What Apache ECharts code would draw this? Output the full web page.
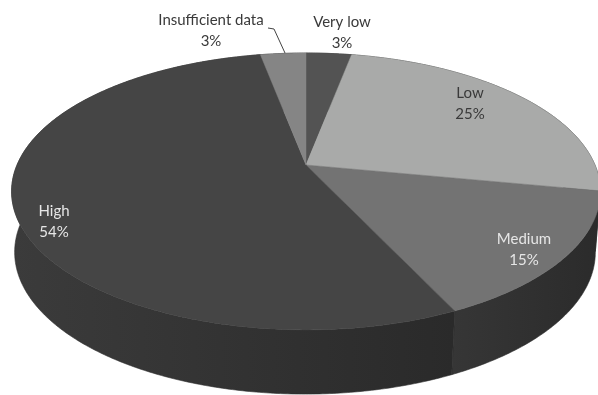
<!DOCTYPE html>
<html>
<head>
<meta charset="utf-8">
<style>html,body{margin:0;padding:0;background:#fff}#c{width:598px;height:395px}</style>
<script src="https://cdn.jsdelivr.net/npm/echarts@6/dist/echarts.min.js"></script>
</head>
<body>
<div id="c"></div>
<script>
// Slices, clockwise from twelve o'clock
const categories = ['Very low', 'Low', 'Medium', 'High', 'Insufficient data'];
const shares = [3, 25, 15, 54, 3];

const topColors = ['#535353', '#a9aaa9', '#737373', '#454545', '#858585'];
const wallColors = [
  ['#2e2e2e', '#2e2e2e'],
  ['#2e2e2e', '#2e2e2e'],
  ['#363636', '#2b2b2b'],
  ['#3b3b3b', '#2a2a2a'],
  ['#2e2e2e', '#2e2e2e']
];
const labelColors = ['#3a3a3a', '#3a3a3a', '#e6e6e6', '#e6e6e6', '#3a3a3a'];
const labelCentres = [[342, 33], [470, 104], [524, 250], [54, 222], [211, 31]];

// Perspective disc: a circle tilted away from the viewer
const tilt = 0.191;
const topFace = { apexX: 306, y: 165, a: 289, b: 133.4 };
const underFace = { apexX: 305, y: 225, a: 285, b: 136.8 };

function project(face, theta) {
  const depth = -Math.cos(theta);
  const w = 1 - tilt * depth;
  return [face.apexX + face.a * Math.sin(theta) / w, face.y + face.b * depth / w];
}

function arc(face, from, to) {
  const steps = Math.max(2, Math.ceil((to - from) / 0.01));
  const pts = [];
  for (let i = 0; i <= steps; i++) pts.push(project(face, from + (to - from) * i / steps));
  return pts;
}

const total = shares.reduce((s, v) => s + v, 0);
const startShare = shares.map((_, i) => shares.slice(0, i).reduce((s, v) => s + v, 0));

function sweep(i, api) {
  const from = startShare[i] / total * Math.PI * 2;
  return [from, from + api.value(0) / total * Math.PI * 2];
}

function renderWall(params, api) {
  const i = params.dataIndex;
  const [from, to] = sweep(i, api);
  const pts = arc(topFace, from, to).concat(arc(underFace, from, to).reverse());
  const xs = pts.map(p => p[0]);
  const fill = new echarts.graphic.LinearGradient(
    Math.min(...xs), 0, Math.max(...xs), 0,
    [{ offset: 0, color: wallColors[i][0] }, { offset: 1, color: wallColors[i][1] }], true);
  return { type: 'polygon', shape: { points: pts }, style: { fill: fill, stroke: '#2d2d2d', lineWidth: 0.6 } };
}

function renderTop(params, api) {
  const i = params.dataIndex;
  const [from, to] = sweep(i, api);
  const pts = [[topFace.apexX, topFace.y]].concat(arc(topFace, from, to));
  return {
    type: 'polygon',
    shape: { points: pts },
    style: { fill: topColors[i], stroke: topColors[i], lineWidth: 0.5 }
  };
}

function renderLabel(params, api) {
  const i = params.dataIndex;
  return {
    type: 'text',
    x: labelCentres[i][0],
    y: labelCentres[i][1],
    style: {
      text: categories[i] + '\n' + api.value(0) + '%',
      fill: labelColors[i],
      font: '15px Lato',
      lineHeight: 21,
      align: 'center',
      verticalAlign: 'middle'
    }
  };
}

const rows = shares.map(v => [v]);
const layer = (renderItem, z) => ({
  type: 'custom', coordinateSystem: 'none', data: rows, renderItem: renderItem, z: z,
  silent: true, animation: false, clip: false
});

const chart = echarts.init(document.getElementById('c'), null, { renderer: 'canvas' });
chart.setOption({
  animation: false,
  backgroundColor: '#ffffff',
  series: [
    layer(renderWall, 1),
    layer(renderTop, 2),
    layer(renderLabel, 4)
  ],
  graphic: [{
    type: 'polyline',
    z: 3,
    shape: { points: [[268, 28], [274, 29], [285, 53]] },
    style: { stroke: '#444444', lineWidth: 1, fill: null }
  }]
});
</script>
</body>
</html>
